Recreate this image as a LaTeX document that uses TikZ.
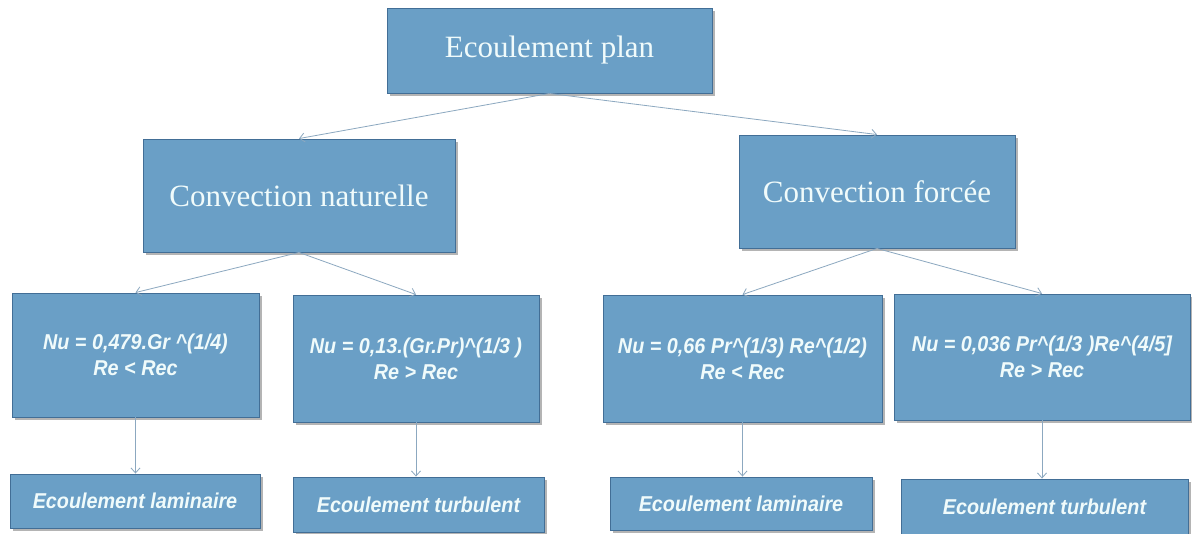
\documentclass[tikz,border=0pt]{standalone}
\usepackage{fontspec}
\setmainfont{Liberation Serif}
\newfontfamily\formfont[FakeStretch=0.92]{Liberation Sans}
\usetikzlibrary{shadows,arrows.meta}
\definecolor{boxfill}{RGB}{106,159,198}
\definecolor{boxline}{RGB}{66,110,150}
\definecolor{txtcol}{RGB}{240,251,251}
\definecolor{conn}{RGB}{140,168,192}
\begin{document}
\begin{tikzpicture}[x=1pt,y=-1pt,
  boxbase/.style={draw=boxline, line width=0.9pt, fill=boxfill,
    drop shadow={shadow xshift=3pt, shadow yshift=-3pt, opacity=0.45, fill=black!65},
    text=txtcol, inner sep=0pt, align=center},
  headbox/.style={boxbase, font=\fontsize{31}{36}\selectfont},
  formbox/.style={boxbase, font=\formfont\bfseries\itshape\fontsize{21.5}{26}\selectfont},
  conline/.style={draw=conn, line width=0.8pt, -{Straight Barb[length=5pt,width=9pt]}}
]
\useasboundingbox (0,0) rectangle (1192,534);
\fill[white] (0,0) rectangle (1192,534);

\node[headbox, minimum width=325pt, minimum height=85pt] (top) at (549.5,50.5) {Ecoulement plan};
\node[headbox, minimum width=312pt, minimum height=113pt] (cn) at (299,195.5) {Convection naturelle};
\node[headbox, minimum width=276pt, minimum height=113pt] (cf) at (877,191.5) {Convection forcée};

\node[formbox, minimum width=247pt, minimum height=124pt] (f1) at (135.5,355) {Nu = 0,479.Gr \textasciicircum(1/4)\\Re < Rec};
\node[formbox, minimum width=246pt, minimum height=127pt] (f2) at (416,358.5) {Nu = 0,13.(Gr.Pr)\textasciicircum(1/3 )\\Re > Rec};
\node[formbox, minimum width=279pt, minimum height=127pt] (f3) at (742.5,358.5) {Nu = 0,66 Pr\textasciicircum(1/3) Re\textasciicircum(1/2)\\Re < Rec};
\node[formbox, minimum width=296pt, minimum height=126pt] (f4) at (1042,357) {Nu = 0,036 Pr\textasciicircum(1/3 )Re\textasciicircum(4/5]\\Re > Rec};

\node[formbox, minimum width=250pt, minimum height=54pt] (b1) at (135,501) {Ecoulement laminaire};
\node[formbox, minimum width=251pt, minimum height=55pt] (b2) at (418.5,504.5) {Ecoulement turbulent};
\node[formbox, minimum width=262pt, minimum height=53pt] (b3) at (741,503.5) {Ecoulement laminaire};
\node[formbox, minimum width=287pt, minimum height=55pt] (b4) at (1044.5,506.5) {Ecoulement turbulent};

\draw[conline] (top.south) -- (cn.north);
\draw[conline] (top.south) -- (cf.north);
\draw[conline] (cn.south) -- (f1.north);
\draw[conline] (cn.south) -- (f2.north);
\draw[conline] (cf.south) -- (f3.north);
\draw[conline] (cf.south) -- (f4.north);
\draw[conline] (f1.south) -- (f1.south |- b1.north);
\draw[conline] (f2.south) -- (f2.south |- b2.north);
\draw[conline] (f3.south) -- (f3.south |- b3.north);
\draw[conline] (f4.south) -- (f4.south |- b4.north);
\end{tikzpicture}
\end{document}
